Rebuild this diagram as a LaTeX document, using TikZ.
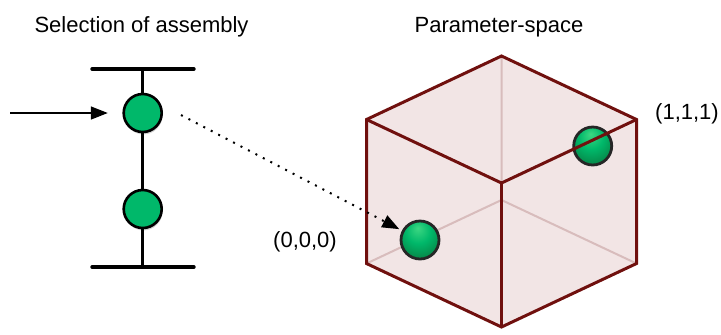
\documentclass[tikz,border=0pt]{standalone}
\usepackage{fontspec}
\setmainfont{Liberation Sans}
\usepackage{tikz}
\usetikzlibrary{positioning}
\usetikzlibrary{arrows.meta}
\usetikzlibrary{shadows}

\definecolor{ballgreen}{RGB}{0,184,106}
\definecolor{ballhi}{RGB}{60,215,130}
\definecolor{balldark}{RGB}{10,110,55}
\definecolor{cubered}{RGB}{112,16,14}
\definecolor{cubefill}{RGB}{242,229,229}
\definecolor{cubeback}{RGB}{216,188,188}
\pgfdeclareradialshading{greenball}{\pgfpoint{-3bp}{16bp}}{color(0bp)=(ballhi); color(16bp)=(ballgreen); color(40bp)=(balldark); color(60bp)=(balldark!80!black)}

\begin{document}
\begin{tikzpicture}[x=0.5pt, y=-0.5pt, font=\fontsize{11}{13}\selectfont,
    flatball/.style={circle, draw=black, line width=1.3pt, fill=ballgreen, minimum size=19pt, inner sep=0pt,
      drop shadow={shadow xshift=0.4pt, shadow yshift=-1.2pt, opacity=0.35}},
    cubeball/.style={circle, draw=black!85, line width=1.4pt, shading=greenball, minimum size=19pt, inner sep=0pt},
    bar/.style={line width=1.7pt, line cap=round},
    edge/.style={draw=cubered, line width=1.5pt, line join=miter},
    hidden/.style={draw=cubeback, line width=1pt},
    tip/.style={-{Triangle[length=8.5pt, width=6.5pt]}}]

    \useasboundingbox (0,0) rectangle (721,334);

    % titles
    \node[anchor=base] (tsel) at (141.5,32) {Selection of assembly};
    \node[anchor=base] (tpar) at (499,32) {Parameter-space};

    % assembly
    \coordinate (tl) at (92,69);
    \coordinate (tr) at (194,69);
    \coordinate (top) at (142.7,69);
    \coordinate (bl) at (92,267);
    \coordinate (br) at (194,267);
    \coordinate (bot) at (142.7,267);
    \node[flatball] (a1) at (142.7,113) {};
    \node[flatball] (a2) at (142.7,209) {};
    \draw[line width=1.5pt] (top) -- (a1) -- (a2) -- (bot);
    \draw[bar] (tl) -- (tr);
    \draw[bar] (bl) -- (br);

    \coordinate (in) at (10,113);
    \draw[line width=0.75pt, tip, shorten >=7.3pt] (in) -- (a1);

    % cube
    \coordinate (T) at (501.5,56);
    \coordinate (L) at (366.5,119.5);
    \coordinate (C) at (501.5,183);
    \coordinate (R) at (636.5,119.5);
    \coordinate (LL) at (366.5,263.5);
    \coordinate (B) at (501.5,327);
    \coordinate (RL) at (636.5,263.5);
    \coordinate (BB) at (501.5,200);

    \fill[cubefill] (T) -- (L) -- (LL) -- (B) -- (RL) -- (R) -- cycle;
    \draw[hidden] (T) -- (BB) -- (LL);
    \draw[hidden] (BB) -- (RL);

    \node[cubeball] (p0) at (420,240) {};
    \node[cubeball] (p1) at (592.7,146) {};

    \draw[edge] (T) -- (L) -- (LL) -- (B) -- (RL) -- (R) -- cycle;
    \draw[edge] (L) -- (C) -- (R);
    \draw[edge] (C) -- (B);

    \node (l0) at (305,242) {(0,0,0)};
    \node (l1) at (687,114) {(1,1,1)};

    % selection link
    \coordinate (dstart) at (181,115);
    \draw[line width=1pt, dash pattern=on 1pt off 3.2pt, tip, shorten >=1.5pt] (dstart) -- (p0);
\end{tikzpicture}
\end{document}
